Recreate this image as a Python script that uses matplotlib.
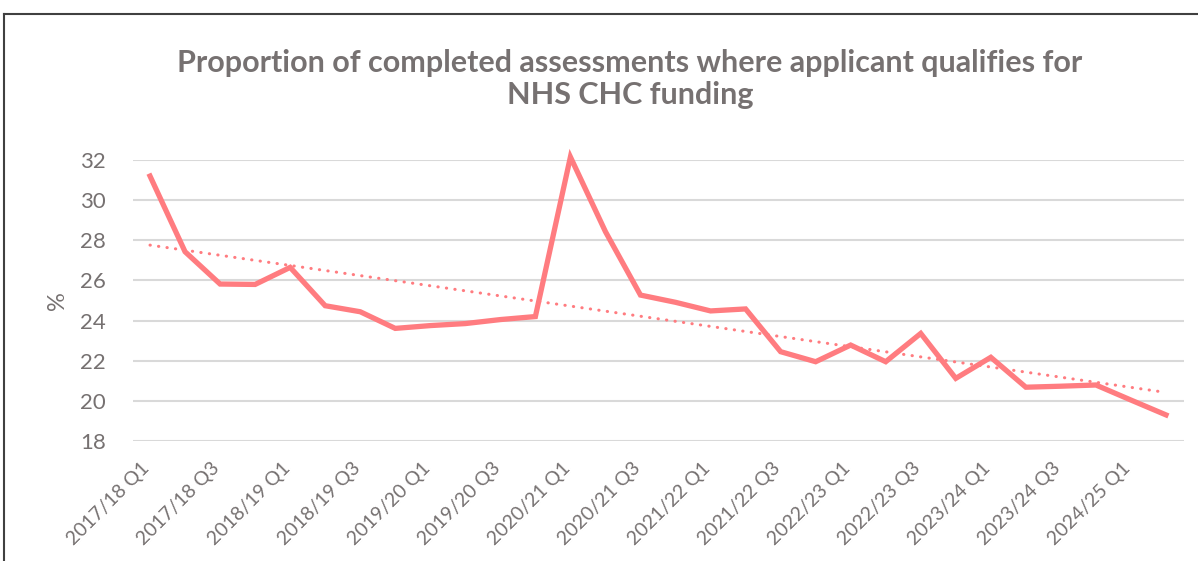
import matplotlib
matplotlib.use("Agg")
import matplotlib.pyplot as plt
from matplotlib.lines import Line2D
from matplotlib.transforms import ScaledTranslation
import numpy as np

plt.rcParams['font.family'] = ['Lato', 'DejaVu Sans']

quarters = []
for y in range(2017, 2025):
    for q in range(1, 5):
        quarters.append(f"{y}/{str(y+1)[2:]} Q{q}")
quarters = quarters[:30]

values = [31.2, 27.43, 25.82, 25.8, 26.65, 24.74, 24.44, 23.61, 23.75, 23.85,
          24.05, 24.2, 32.15, 28.43, 25.27, 24.91, 24.48, 24.58, 22.45, 21.95,
          22.78, 21.95, 23.36, 21.12, 22.17, 20.68, 20.73, 20.79, 20.04, 19.3]

title = "Proportion of completed assessments where applicant qualifies for\nNHS CHC funding"
yticks = [18, 20, 22, 24, 26, 28, 30, 32]

W, H = 1198, 561
fig = plt.figure(figsize=(W/100, H/100), dpi=100)
ax = fig.add_axes([132.5/W, 1-441/H, (1183.5-132.5)/W, (441-160)/H])

txt = '#767171'
col = '#FF7C80'
x = np.arange(len(values))
ax.plot(x, values, color=col, lw=3.8, solid_joinstyle='miter', clip_on=False, zorder=3)

coef = np.polyfit(x, values, 1)
trend = np.polyval(coef, x)
ax.plot(x, trend, color=col, lw=2.2, linestyle=(0, (0.1, 2.7)),
        dash_capstyle='round', clip_on=False, zorder=2)

ax.set_xlim(-0.5, len(values)-0.5)
ax.set_ylim(18, 32)
ax.set_yticks(yticks)
ax.set_yticklabels([str(t) for t in yticks])
ax.yaxis.grid(True, color='#D9D9D9', lw=1.5)
ax.set_axisbelow(True)
for s in ax.spines.values():
    s.set_visible(False)
ax.tick_params(axis='both', length=0, colors=txt)
ax.tick_params(axis='y', pad=19, labelsize=16)
ax.set_xticks(x[::2])
ax.set_xticklabels(quarters[::2], rotation=45, ha='right', va='top',
                   rotation_mode='anchor', fontsize=14, color=txt)
ax.tick_params(axis='x', pad=13)
off = ScaledTranslation(-9/100, 0, fig.dpi_scale_trans)
for lab in ax.get_xticklabels():
    lab.set_transform(lab.get_transform() + off)
ax.set_ylabel('%', color=txt, fontsize=17, labelpad=9)

fig.text(630/W, 1-79/H, title, ha='center', va='center', fontsize=22,
         fontweight='bold', color=txt, linespacing=1.15)

# chart border (top and left edges visible)
fig.add_artist(Line2D([3.5/W, 1.0], [1-13.5/H, 1-13.5/H], color='#404040', lw=1.5))
fig.add_artist(Line2D([3.5/W, 3.5/W], [0, 1-13.5/H], color='#404040', lw=1.5))

fig.savefig('out.png', dpi=100)
